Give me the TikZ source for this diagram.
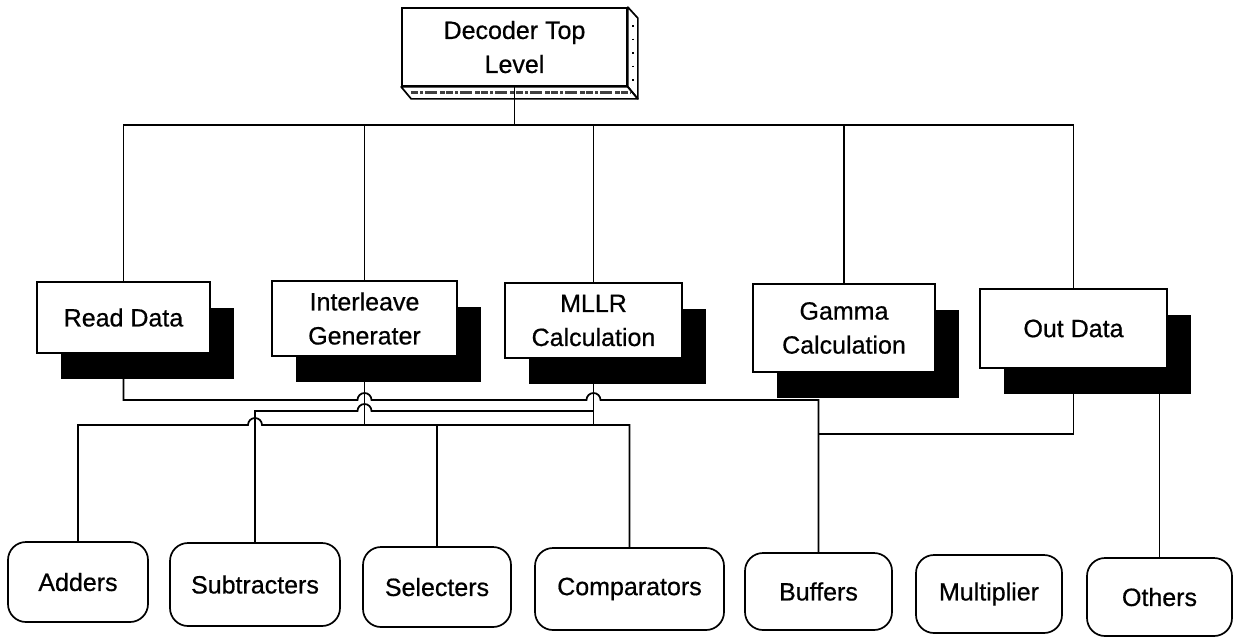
\documentclass[tikz,border=0pt]{standalone}
\usepackage{fontspec}
\setmainfont[FakeBold=0.6]{Liberation Sans}
\usetikzlibrary{calc,shadows}
\begin{document}
\begin{tikzpicture}[x=1pt,y=1pt,
  every node/.style={font=\fontsize{25}{34}\selectfont, inner sep=0pt},
  wire/.style={line width=1.7pt, line join=miter},
  topface/.style={draw, line width=1.7pt, fill=white, align=center},
  unitbox/.style={draw, line width=1.7pt, fill=white, align=center,
    general shadow={fill=black, shadow xshift=24pt, shadow yshift=-26pt}},
  partbox/.style={draw, line width=1.7pt, rounded corners=18pt, align=center}]
\useasboundingbox (0,0) rectangle (1236,-638);

% rails of the wiring
\coordinate (bus) at (0,-125);
\coordinate (railA) at (0,-400);
\coordinate (railB) at (0,-411);
\coordinate (railC) at (0,-425);
\coordinate (railD) at (0,-434);

% top level block, drawn as a box with depth
\node[topface, minimum width=225pt, minimum height=78pt] (top) at (514.5,-47) {Decoder Top\\Level};
\draw[wire, line join=round] (top.north east) -- ++(10,-11)
  -- ($(top.south east)+(10,-12)$) -- (top.south east) -- cycle;
\draw[wire, line join=round] (top.south west) -- (top.south east)
  -- ++(10,-12) -- ($(top.south west)+(10,-12)$) -- cycle;
\draw[line width=3pt, black!75, dash pattern=on 7pt off 2pt on 3pt off 2pt on 12pt off 3pt on 5pt off 1pt]
  ($(top.south west)+(10,-6)$) -- ($(top.south east)+(3,-6)$);
\draw[line width=1.4pt, dash pattern=on 1.5pt off 12pt]
  ($(top.north east)+(5,-18)$) -- ($(top.south east)+(5,-2)$);

% second level modules
\node[unitbox, minimum width=173pt, minimum height=71pt] (rd) at (123.5,-317.5) {Read Data};
\node[unitbox, minimum width=185pt, minimum height=75pt] (ig) at (364.5,-318.5) {Interleave\\Generater};
\node[unitbox, minimum width=177pt, minimum height=75pt] (ml) at (593.5,-320.5) {MLLR\\Calculation};
\node[unitbox, minimum width=182pt, minimum height=88pt] (gc) at (844,-328) {Gamma\\Calculation};
\node[unitbox, minimum width=187pt, minimum height=79pt] (od) at (1073.5,-328.5) {Out Data};

% basic components
\node[partbox, minimum width=140pt, minimum height=80pt] (ad) at (78,-582) {Adders};
\node[partbox, minimum width=170pt, minimum height=83pt] (sb) at (255,-584.5) {Subtracters};
\node[partbox, minimum width=148pt, minimum height=80pt] (sl) at (437,-587) {Selecters};
\node[partbox, minimum width=189pt, minimum height=82pt] (cp) at (629.5,-589) {Comparators};
\node[partbox, minimum width=147pt, minimum height=77pt] (bf) at (818.5,-591.5) {Buffers};
\node[partbox, minimum width=146pt, minimum height=78pt] (mp) at (989,-594) {Multiplier};
\node[partbox, minimum width=145pt, minimum height=78pt] (ot) at (1159.5,-597) {Others};

% top level to modules
\draw[wire] (top.south) -- (top.south |- bus);
\draw[wire] (rd.north) -- (rd.north |- bus) -- (od.north |- bus) -- (od.north);
\draw[wire] (ig.north) -- (ig.north |- bus);
\draw[wire] (ml.north) -- (ml.north |- bus);
\draw[wire] (gc.north) -- (gc.north |- bus);

% modules to components
\draw[wire] (ig.south) -- (ig.south |- railC);
\draw[wire] (ml.south) -- (ml.south |- railC);
\draw[wire] (rd.south) -- (rd.south |- railA)
  -- ($(ig.south |- railA)+(-7,0)$) arc[start angle=180, end angle=0, radius=7]
  -- ($(ml.south |- railA)+(-7,0)$) arc[start angle=180, end angle=0, radius=7]
  -- (bf.north |- railA) -- (bf.north);
\draw[wire] (ml.south |- railB)
  -- ($(ig.south |- railB)+(7,0)$) arc[start angle=0, end angle=180, radius=7]
  -- (sb.north |- railB) -- (sb.north);
\draw[wire] (ad.north) -- (ad.north |- railC)
  -- ($(sb.north |- railC)+(-7,0)$) arc[start angle=180, end angle=0, radius=7]
  -- (cp.north |- railC) -- (cp.north);
\draw[wire] (sl.north) -- (sl.north |- railC);
\draw[wire] (od.south) -- (od.south |- railD) -- (bf.north |- railD);
\draw[wire] (od.south -| ot.north) -- (ot.north);
\end{tikzpicture}
\end{document}
